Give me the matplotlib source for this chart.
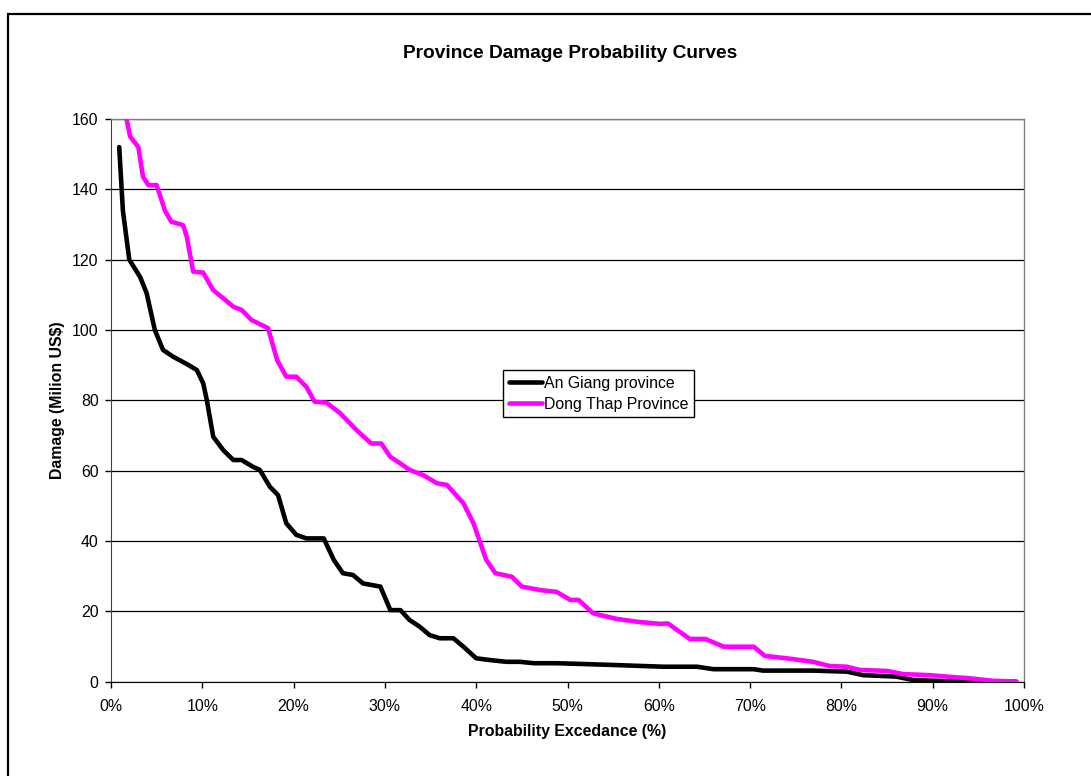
import matplotlib
matplotlib.use("Agg")
import matplotlib.pyplot as plt
from matplotlib.patches import Rectangle
from matplotlib.ticker import PercentFormatter, MultipleLocator

plt.rcParams['font.family'] = ['Liberation Sans', 'DejaVu Sans']

# Exceedance probability (fraction) and damage (million US$) for each province
an_giang_p = [0.009, 0.013, 0.020, 0.032, 0.039, 0.048, 0.057, 0.068, 0.085, 0.094,
              0.101, 0.105, 0.107, 0.112, 0.123, 0.134, 0.143, 0.156, 0.163, 0.174,
              0.183, 0.192, 0.203, 0.214, 0.233, 0.244, 0.254, 0.265, 0.276, 0.295,
              0.306, 0.317, 0.327, 0.338, 0.349, 0.360, 0.375, 0.386, 0.400, 0.415,
              0.433, 0.448, 0.463, 0.488, 0.514, 0.550, 0.605, 0.642, 0.660, 0.704,
              0.714, 0.769, 0.806, 0.824, 0.860, 0.879, 0.915, 0.944, 0.990]
an_giang_dmg = [152, 134, 120, 115, 110.5, 100, 94.3, 92.4, 90, 88.6,
                84.8, 80, 77, 69.6, 65.8, 63, 63, 61, 60.2, 55.4,
                53, 45, 41.7, 40.7, 40.7, 34.6, 30.8, 30.3, 27.9, 27,
                20.3, 20.3, 17.5, 15.6, 13.2, 12.3, 12.3, 9.9, 6.6, 6.1,
                5.6, 5.6, 5.2, 5.2, 5.0, 4.7, 4.2, 4.2, 3.5, 3.5,
                3.1, 3.1, 2.8, 1.8, 1.4, 0.4, 0.1, 0, 0]

dong_thap_p = [0.017, 0.021, 0.030, 0.035, 0.041, 0.050, 0.059, 0.066, 0.079, 0.083,
               0.090, 0.101, 0.112, 0.123, 0.134, 0.143, 0.154, 0.172, 0.182, 0.192,
               0.203, 0.214, 0.223, 0.236, 0.251, 0.269, 0.285, 0.296, 0.306, 0.317,
               0.327, 0.342, 0.357, 0.368, 0.386, 0.397, 0.404, 0.411, 0.421, 0.439,
               0.450, 0.470, 0.488, 0.503, 0.512, 0.528, 0.536, 0.554, 0.576, 0.601,
               0.610, 0.634, 0.651, 0.671, 0.704, 0.716, 0.740, 0.769, 0.787, 0.806,
               0.820, 0.850, 0.868, 0.897, 0.915, 0.941, 0.966, 0.992]
dong_thap_dmg = [160, 155, 152, 143.6, 141.2, 141.2, 134, 130.8, 129.8, 126.5,
                 116.6, 116.3, 111.3, 109, 106.6, 105.7, 102.8, 100.5, 91.4, 86.7,
                 86.7, 83.8, 79.6, 79.3, 76.3, 71.5, 67.7, 67.7, 63.9, 62,
                 60.2, 58.7, 56.4, 55.9, 50.7, 45, 39.8, 34.6, 30.8, 29.8,
                 27, 26, 25.5, 23.2, 23.2, 19.4, 18.9, 17.8, 17, 16.4,
                 16.5, 12.1, 12.1, 9.9, 9.9, 7.3, 6.6, 5.6, 4.4, 4.2,
                 3.3, 3.0, 2.1, 1.8, 1.4, 0.9, 0.2, 0]

W, H = 1091, 776
fig = plt.figure(figsize=(W / 100, H / 100), dpi=100)
ax = fig.add_axes([111 / W, 1 - 681.5 / H, 913 / W, 562.5 / H])

ax.plot(an_giang_p, an_giang_dmg, color='black', lw=3.3,
        solid_joinstyle='round', solid_capstyle='round', label='An Giang province', zorder=3)
ax.plot(dong_thap_p, dong_thap_dmg, color='#FF00FF', lw=3.3,
        solid_joinstyle='round', solid_capstyle='round', label='Dong Thap Province', zorder=3)

ax.set_xlim(0, 1)
ax.set_ylim(0, 160)
ax.xaxis.set_major_locator(MultipleLocator(0.1))
ax.xaxis.set_major_formatter(PercentFormatter(1.0, decimals=0))
ax.yaxis.set_major_locator(MultipleLocator(20))
ax.yaxis.grid(True, color='black', lw=0.9)
ax.set_axisbelow(True)

for side in ['top', 'right']:
    ax.spines[side].set_color('#808080')
    ax.spines[side].set_linewidth(1.0)
ax.spines['left'].set_color('#404040')
ax.spines['bottom'].set_color('black')

ax.tick_params(direction='out', length=4, width=1, labelsize=11.4)
ax.tick_params(axis='x', pad=8.6)
ax.tick_params(axis='y', pad=5)

ax.set_xlabel('Probability Excedance (%)', fontsize=11.4, fontweight='bold', labelpad=7.5)
ax.set_ylabel('Damage (Milion US$)', fontsize=11.4, fontweight='bold', labelpad=5)
fig.text(570 / W, 1 - 53 / H, 'Province Damage Probability Curves',
         ha='center', va='center', fontsize=13.8, fontweight='bold')

leg = ax.legend(loc='upper left', bbox_to_anchor=(503 / W, 1 - 370 / H),
                bbox_transform=fig.transFigure, borderaxespad=0, fancybox=False,
                edgecolor='black', framealpha=1, fontsize=11.4, handlelength=2.1,
                handletextpad=0.15, borderpad=0.35, labelspacing=0.4)
leg.get_frame().set_linewidth(1.0)

# chart border (left and top edges inside the canvas)
fig.patches.append(Rectangle((8 / W, -0.1), 2, 1 - 14 / H + 0.1, transform=fig.transFigure,
                             fill=False, edgecolor='black', lw=1.6))

fig.savefig('out.png', dpi=100)
